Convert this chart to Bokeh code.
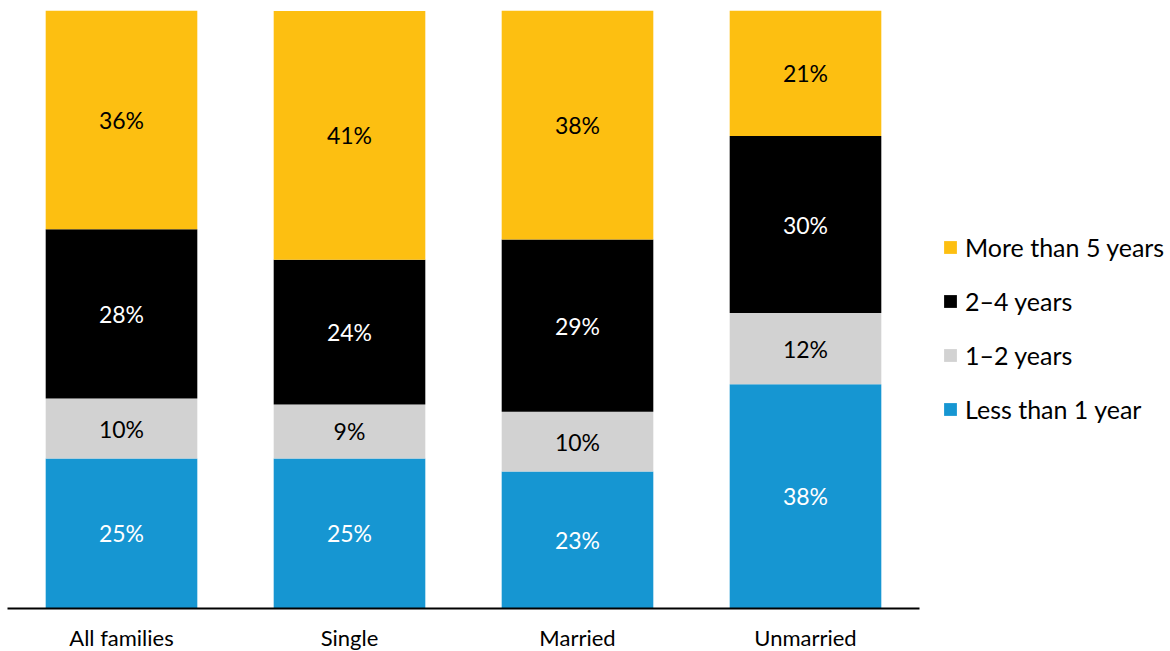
import numpy as np
from bokeh.plotting import figure
from bokeh.models import ColumnDataSource, FactorRange, Range1d, Legend, LegendItem
from bokeh.core.properties import value
from bokeh.embed import file_html
from bokeh.resources import INLINE

categories = ["All families", "Single", "Married", "Unmarried"]
series_names = ["Less than 1 year", "1\u20132 years", "2\u20134 years", "More than 5 years"]
less_than_1 = [25.1, 25.1, 22.9, 37.5]
one_to_two = [10.0, 9.0, 10.0, 11.9]
two_to_four = [28.3, 24.2, 28.8, 29.6]
more_than_5 = [36.6, 41.6, 38.3, 21.1]
label_less_than_1 = ["25%", "25%", "23%", "38%"]
label_one_to_two = ["10%", "9%", "10%", "12%"]
label_two_to_four = ["28%", "24%", "29%", "30%"]
label_more_than_5 = ["36%", "41%", "38%", "21%"]

colors = ["#1696d2", "#d2d2d2", "#000000", "#fdbf11"]
text_colors = ["#ffffff", "#000000", "#ffffff", "#000000"]
FONT = "Lato"

keys = ["s0", "s1", "s2", "s3"]
series = [less_than_1, one_to_two, two_to_four, more_than_5]
labels = [label_less_than_1, label_one_to_two, label_two_to_four, label_more_than_5]
data = {"cat": categories}
for k, s in zip(keys, series):
    data[k] = s
src = ColumnDataSource(data)

p = figure(x_range=FactorRange(factors=categories, range_padding=0),
           y_range=Range1d(0, 100),
           frame_width=912, frame_height=598,
           output_backend="svg", toolbar_location=None,
           min_border_top=10, min_border_left=7, min_border_right=245,
           min_border_bottom=0)

renderers = p.vbar_stack(keys, x="cat", width=0.665, color=colors, source=src,
                         line_color=None)

arr = np.array(series)
cum = np.cumsum(arr, axis=0)
for i in range(4):
    mids = cum[i] - arr[i] / 2.0
    ts = ColumnDataSource(dict(x=categories, y=list(mids), t=labels[i]))
    p.text(x="x", y="y", text="t", source=ts, text_align="center",
           text_baseline="middle", text_font=value(FONT),
           text_font_size="23px", text_color=text_colors[i])

items = [LegendItem(label=series_names[i], renderers=[renderers[i]]) for i in [3, 2, 1, 0]]
legend = Legend(items=items, location=(23, 184), orientation="vertical",
                label_text_font=FONT, label_text_font_size="25px",
                label_text_color="#000000", glyph_width=16, glyph_height=16,
                label_height=30, label_standoff=7, spacing=24, padding=0,
                margin=0, border_line_color=None, background_fill_alpha=0)
p.add_layout(legend, "right")

p.yaxis.visible = False
p.xgrid.grid_line_color = None
p.ygrid.grid_line_color = None
p.outline_line_color = None
p.xaxis.axis_line_color = "#000000"
p.xaxis.axis_line_width = 2
p.xaxis.major_tick_line_color = None
p.xaxis.minor_tick_line_color = None
p.xaxis.major_label_text_font = FONT
p.xaxis.major_label_text_font_size = "22px"
p.xaxis.major_label_text_color = "#000000"
p.xaxis.major_label_standoff = 9

open("out.html", "w").write(file_html(p, INLINE))
